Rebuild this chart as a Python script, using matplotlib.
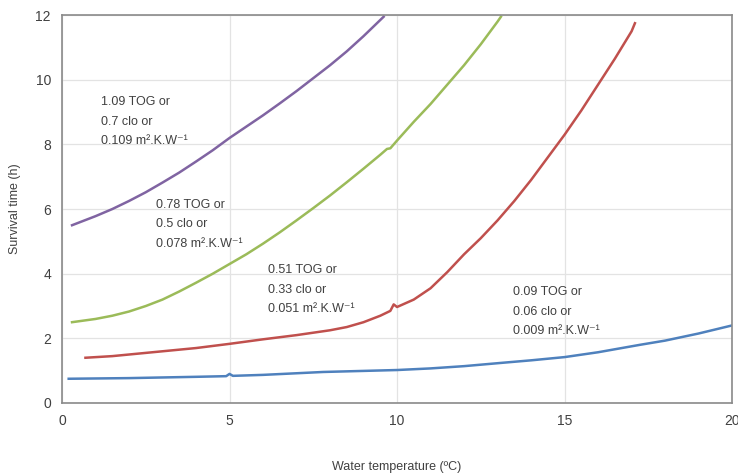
import matplotlib
matplotlib.use("Agg")
import matplotlib.pyplot as plt

plt.rcParams['font.family'] = ['Liberation Sans', 'DejaVu Sans']

# survival time (h) vs water temperature (C)
x_109 = [0.3, 1, 1.5, 2, 2.5, 3, 3.5, 4, 4.5, 5, 5.5, 6, 6.5, 7, 7.5, 8, 8.5, 9, 9.6]
y_109 = [5.5, 5.78, 6.0, 6.25, 6.52, 6.82, 7.13, 7.47, 7.82, 8.2, 8.55, 8.9, 9.27, 9.65, 10.05, 10.45, 10.88, 11.35, 11.95]

x_078 = [0.3, 1, 1.5, 2, 2.5, 3, 3.5, 4, 4.5, 5, 5.5, 6, 6.5, 7, 7.5, 8, 8.5, 9, 9.5,
         9.7, 9.8, 10, 10.5, 11, 11.5, 12, 12.5, 13, 13.1]
y_078 = [2.5, 2.6, 2.7, 2.83, 3.0, 3.2, 3.45, 3.72, 4.0, 4.3, 4.6, 4.93, 5.28, 5.65, 6.03, 6.42, 6.83, 7.25, 7.68,
         7.86, 7.88, 8.12, 8.7, 9.25, 9.85, 10.45, 11.1, 11.8, 11.95]

x_051 = [0.7, 1.5, 2, 3, 4, 5, 6, 7, 8, 8.5, 9, 9.5, 9.8, 9.9, 10, 10.5, 11, 11.5, 12, 12.5,
         13, 13.5, 14, 14.5, 15, 15.5, 16, 16.5, 17, 17.1]
y_051 = [1.4, 1.45, 1.5, 1.6, 1.7, 1.83, 1.97, 2.1, 2.25, 2.35, 2.5, 2.7, 2.85, 3.05, 2.97, 3.2, 3.55, 4.05, 4.6, 5.1,
         5.65, 6.25, 6.9, 7.6, 8.3, 9.05, 9.85, 10.65, 11.5, 11.75]

x_009 = [0.2, 2, 4, 4.9, 5.0, 5.1, 6, 7.8, 10, 11, 12, 13.1, 14, 15, 16, 17.25, 18, 19, 20]
y_009 = [0.75, 0.77, 0.81, 0.83, 0.9, 0.84, 0.87, 0.96, 1.02, 1.07, 1.14, 1.24, 1.32, 1.42, 1.57, 1.8, 1.93, 2.15, 2.4]

labels = [
    '1.09 TOG or\n0.7 clo or\n0.109 m².K.W⁻¹',
    '0.78 TOG or\n0.5 clo or\n0.078 m².K.W⁻¹',
    '0.51 TOG or\n0.33 clo or\n0.051 m².K.W⁻¹',
    '0.09 TOG or\n0.06 clo or\n0.009 m².K.W⁻¹',
]
label_pos = [(1.15, 9.5), (2.8, 6.32), (6.15, 4.3), (13.45, 3.62)]

fig = plt.figure(figsize=(7.38, 4.73), dpi=100)
ax = fig.add_axes([0.084, 0.148, 0.908, 0.82])

ax.plot(x_009, y_009, color='#4F81BD', lw=1.8)
ax.plot(x_051, y_051, color='#C0504D', lw=1.8)
ax.plot(x_078, y_078, color='#9BBB59', lw=1.8)
ax.plot(x_109, y_109, color='#8064A2', lw=1.8)

for txt, (tx, ty) in zip(labels, label_pos):
    ax.text(tx, ty, txt, fontsize=9, color='#404040', va='top', ha='left', linespacing=1.85)

ax.set_xlim(0, 20)
ax.set_ylim(0, 12)
ax.set_xticks([0, 5, 10, 15, 20])
ax.set_yticks([0, 2, 4, 6, 8, 10, 12])
ax.grid(True, color='#e3e3e3', lw=0.9)
ax.set_axisbelow(True)
ax.tick_params(length=0, labelsize=10, labelcolor='#404040', pad=8)
for s in ax.spines.values():
    s.set_color('#8a8a8a')
    s.set_linewidth(1.2)

ax.set_xlabel('Water temperature (ºC)', fontsize=9, color='#404040', labelpad=24)
ax.set_ylabel('Survival time (h)', fontsize=9, color='#404040', labelpad=10)

fig.savefig('out.png', dpi=100)
